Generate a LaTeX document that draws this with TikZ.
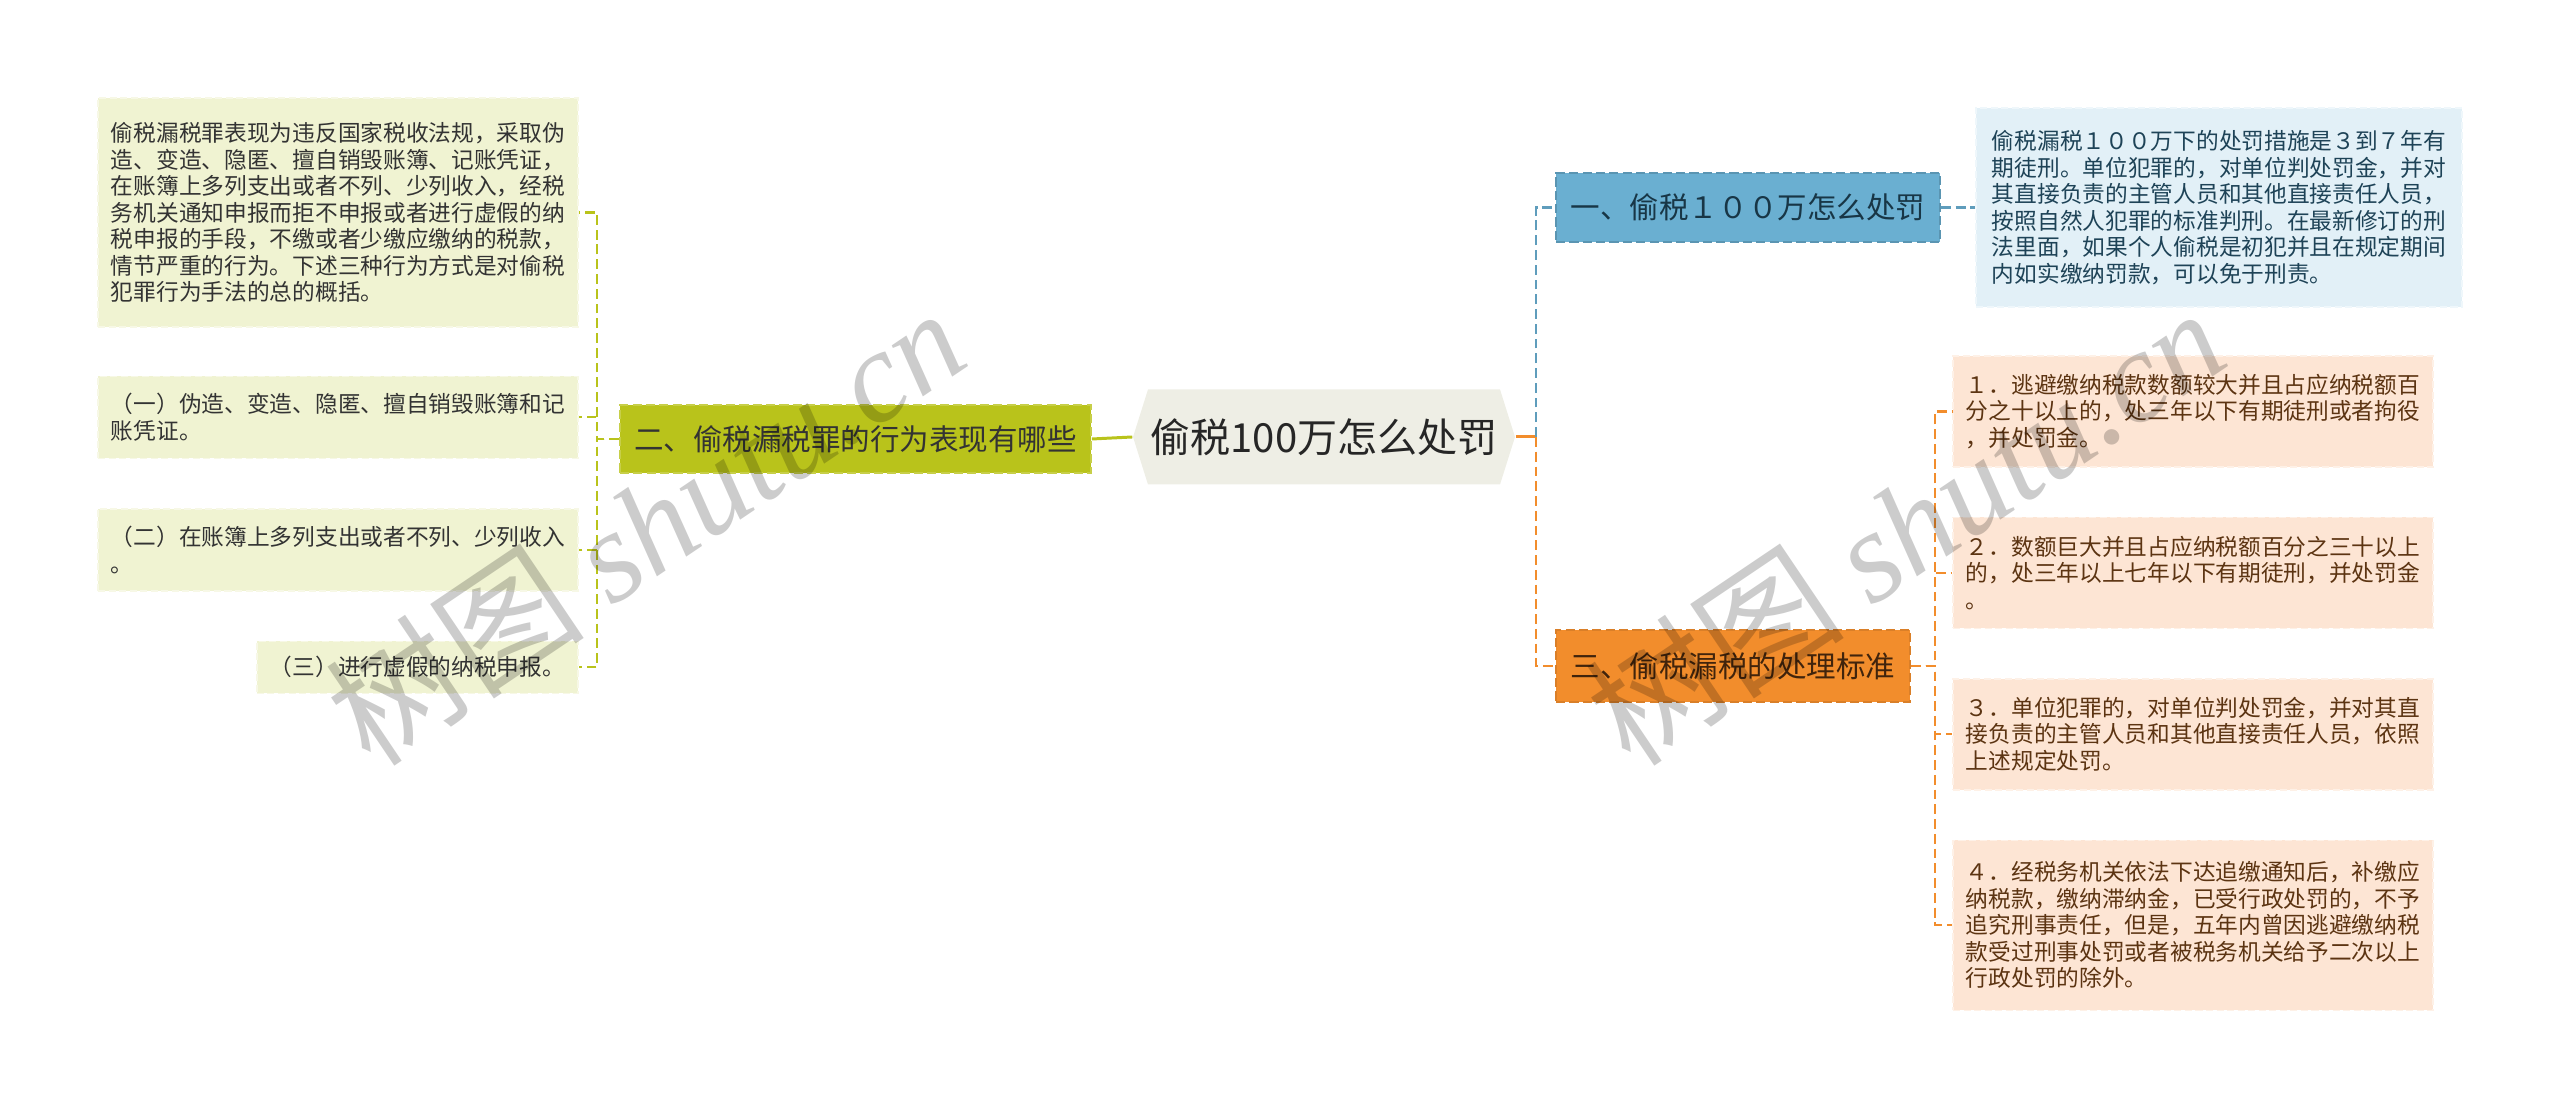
\documentclass[tikz,border=0pt]{standalone}
\usepackage{fontspec}
\setmainfont{Noto Sans CJK SC}
\newfontfamily\wmlatin{Liberation Serif}
\usetikzlibrary{positioning, shapes.symbols}
\definecolor{cCore}{HTML}{EEEEE5}
\definecolor{cOlive}{HTML}{B9C31B}
\definecolor{cOliveLeaf}{HTML}{F0F3D2}
\definecolor{cBlue}{HTML}{6AAFD1}
\definecolor{cBlueLeaf}{HTML}{E2F0F7}
\definecolor{cOrange}{HTML}{F28D2C}
\definecolor{cOrangeLeaf}{HTML}{FDE5D4}
\definecolor{cInk}{HTML}{333333}
\definecolor{cBlueInk}{HTML}{1E4357}
\definecolor{cBrownInk}{HTML}{5C3412}
\newcommand{\leaffont}{\fontsize{6.46pt}{7.54pt}\selectfont}
\newcommand{\branchfont}{\fontsize{8.4pt}{10pt}\selectfont}
\newcommand{\corefont}{\fontsize{11.4pt}{13pt}\selectfont}

\begin{document}
\begin{tikzpicture}[
  leafbox/.style={rectangle, minimum width=4.8cm, align=left, inner xsep=0.13cm,
                  font=\leaffont, line width=0.4pt, dash pattern=on 2pt off 1pt},
  gleaf/.style={leafbox, fill=cOliveLeaf, draw=cOliveLeaf!55!white, text=cInk},
  bleaf/.style={leafbox, fill=cBlueLeaf, draw=cBlueLeaf!55!white, text=cBlueInk,
                minimum width=4.86cm},
  oleaf/.style={leafbox, fill=cOrangeLeaf, draw=cOrangeLeaf!55!white, text=cBrownInk},
  branch/.style={rectangle, font=\branchfont, line width=0.5pt,
                 dash pattern=on 2.6pt off 1.2pt},
  gline/.style={draw=cOlive, line width=0.6pt, dash pattern=on 2.8pt off 1.4pt},
  bline/.style={draw=cBlue!90!black, line width=0.6pt, dash pattern=on 2.8pt off 1.4pt},
  oline/.style={draw=cOrange, line width=0.6pt, dash pattern=on 2.8pt off 1.4pt},
  wmark/.style={font=\fontsize{37pt}{40pt}\selectfont, text=black, text opacity=0.2,
                rotate=34},
]
\useasboundingbox (0,0) rectangle (25.6,-11.04);

% centre
\node[signal, signal to=west and east, signal pointer angle=145, fill=cCore,
      minimum width=3.82cm, minimum height=0.95cm, inner sep=0pt,
      font=\corefont, text=black!85] (core) at (13.24,-4.37) {偷税100万怎么处罚};

% branches
\node[branch, fill=cOlive, draw=cOlive!80!white, minimum width=4.71cm,
      minimum height=0.68cm, text=cInk] (two) at (8.555,-4.39)
  {二、偷税漏税罪的行为表现有哪些};
\node[branch, fill=cBlue, draw=cBlue!85!black, minimum width=3.84cm,
      minimum height=0.69cm, text=cBlueInk!80!black] (one) at (17.48,-2.075)
  {一、偷税１００万怎么处罚};
\node[branch, fill=cOrange, draw=cOrange!90!black, minimum width=3.54cm,
      minimum height=0.72cm, text=cBrownInk!70!black] (three) at (17.33,-6.66)
  {三、偷税漏税的处理标准};

% left leaves
\node[gleaf, minimum height=2.29cm] (acts) at (3.38,-2.125)
  {偷税漏税罪表现为违反国家税收法规，采取伪\\
   造、变造、隐匿、擅自销毁账簿、记账凭证，\\
   在账簿上多列支出或者不列、少列收入，经税\\
   务机关通知申报而拒不申报或者进行虚假的纳\\
   税申报的手段，不缴或者少缴应缴纳的税款，\\
   情节严重的行为。下述三种行为方式是对偷税\\
   犯罪行为手法的总的概括。};
\node[gleaf, minimum height=0.82cm, below=0.48cm of acts] (actA)
  {（一）伪造、变造、隐匿、擅自销毁账簿和记\\账凭证。};
\node[gleaf, minimum height=0.82cm, below=0.49cm of actA] (actB)
  {（二）在账簿上多列支出或者不列、少列收入\\。};
\node[gleaf, minimum width=3.2cm, minimum height=0.52cm,
      below=0.49cm of actB.south east, anchor=north east] (actC)
  {（三）进行虚假的纳税申报。};

% right leaves
\node[bleaf, minimum height=1.99cm] (rule) at (22.19,-2.075)
  {偷税漏税１００万下的处罚措施是３到７年有\\
   期徒刑。单位犯罪的，对单位判处罚金，并对\\
   其直接负责的主管人员和其他直接责任人员，\\
   按照自然人犯罪的标准判刑。在最新修订的刑\\
   法里面，如果个人偷税是初犯并且在规定期间\\
   内如实缴纳罚款，可以免于刑责。};

\node[oleaf, minimum height=1.11cm] (stdA) at (21.93,-4.115)
  {１．逃避缴纳税款数额较大并且占应纳税额百\\
   分之十以上的，处三年以下有期徒刑或者拘役\\
   ，并处罚金。};
\node[oleaf, minimum height=1.11cm, below=0.49cm of stdA] (stdB)
  {２．数额巨大并且占应纳税额百分之三十以上\\
   的，处三年以上七年以下有期徒刑，并处罚金\\
   。};
\node[oleaf, minimum height=1.11cm, below=0.49cm of stdB] (stdC)
  {３．单位犯罪的，对单位判处罚金，并对其直\\
   接负责的主管人员和其他直接责任人员，依照\\
   上述规定处罚。};
\node[oleaf, minimum height=1.70cm, below=0.49cm of stdC] (stdD)
  {４．经税务机关依法下达追缴通知后，补缴应\\
   纳税款，缴纳滞纳金，已受行政处罚的，不予\\
   追究刑事责任，但是，五年内曾因逃避缴纳税\\
   款受过刑事处罚或者被税务机关给予二次以上\\
   行政处罚的除外。};

% connectors
\draw[draw=cOlive, line width=0.85pt] (core.west) -- (two.east);
\foreach \leaf in {acts, actA, actB, actC}
  \draw[gline] (two.west) -- ++(-0.22,0) |- (\leaf.east);

\draw[draw=cOrange, line width=0.85pt] (core.east) -- ++(0.2,0) coordinate (fork);
\draw[bline] (fork) |- (one.west);
\draw[oline] (fork) |- (three.west);
\draw[bline] (one.east) -- (rule.west);
\foreach \leaf in {stdA, stdB, stdC, stdD}
  \draw[oline] (three.east) -- ++(0.24,0) |- (\leaf.west);

% watermarks
\node[wmark] (wmL) at (6.45,-5.25) {树图 {\wmlatin\itshape shutu.cn}};
\node[wmark] (wmR) at (19.05,-5.25) {树图 {\wmlatin\itshape shutu.cn}};
\end{tikzpicture}
\end{document}
